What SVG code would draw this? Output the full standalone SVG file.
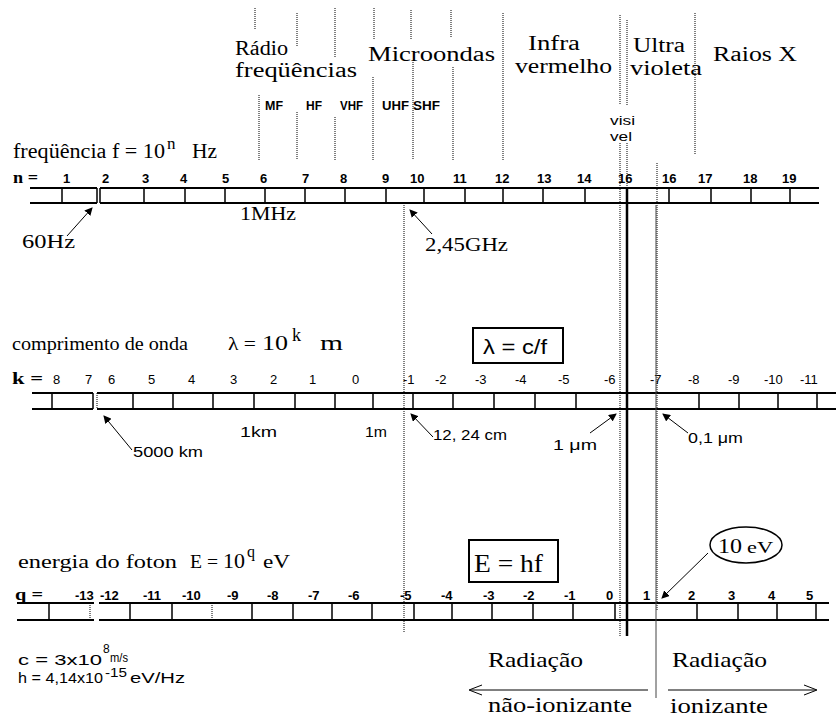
<svg xmlns="http://www.w3.org/2000/svg" width="836" height="718" viewBox="0 0 836 718">
<defs>
<style>
.sf{font-family:"Liberation Serif",serif;fill:#000}
.ss{font-family:"Liberation Sans",sans-serif;fill:#000}
.b{font-weight:bold}
.dot{stroke:#000;stroke-width:1;stroke-dasharray:1 1;fill:none}
.bar{stroke:#000;stroke-width:2;fill:none}
.tk{stroke:#000;stroke-width:1.5}
.thin{stroke:#000;stroke-width:1;fill:none}
.arr{stroke:#000;stroke-width:1;fill:none;marker-end:url(#ah)}
</style>
<marker id="ah" viewBox="0 0 8 8" refX="7" refY="4" markerWidth="8" markerHeight="8" orient="auto" markerUnits="userSpaceOnUse">
<path d="M0,0 L8,4 L0,8 Z" fill="#000"/>
</marker>
</defs>
<rect width="836" height="718" fill="#fff"/>

<g id="band-labels">
<text class="sf" x="235" y="55" font-size="20" textLength="53" lengthAdjust="spacingAndGlyphs">Rádio</text>
<text class="sf" x="235" y="77" font-size="20" textLength="122" lengthAdjust="spacingAndGlyphs">freqüências</text>
<text class="sf" x="368" y="61" font-size="20" textLength="127" lengthAdjust="spacingAndGlyphs">Microondas</text>
<text class="sf" x="528" y="50" font-size="20" textLength="52" lengthAdjust="spacingAndGlyphs">Infra</text>
<text class="sf" x="515" y="73" font-size="20" textLength="97" lengthAdjust="spacingAndGlyphs">vermelho</text>
<text class="sf" x="633" y="52" font-size="20" textLength="52" lengthAdjust="spacingAndGlyphs">Ultra</text>
<text class="sf" x="630" y="75" font-size="20" textLength="72" lengthAdjust="spacingAndGlyphs">violeta</text>
<text class="sf" x="713" y="61" font-size="20" textLength="84" lengthAdjust="spacingAndGlyphs">Raios X</text>
<text class="ss b" x="265" y="110" font-size="13" textLength="18" lengthAdjust="spacingAndGlyphs">MF</text>
<text class="ss b" x="306" y="110" font-size="13" textLength="16" lengthAdjust="spacingAndGlyphs">HF</text>
<text class="ss b" x="340" y="110" font-size="13" textLength="23" lengthAdjust="spacingAndGlyphs">VHF</text>
<text class="ss b" x="382" y="110" font-size="13" textLength="27" lengthAdjust="spacingAndGlyphs">UHF</text>
<text class="ss b" x="413" y="110" font-size="13" textLength="27" lengthAdjust="spacingAndGlyphs">SHF</text>
<text class="ss" x="610" y="125" font-size="12" textLength="25" lengthAdjust="spacingAndGlyphs">visi</text>
<text class="ss" x="610" y="141" font-size="12" textLength="22" lengthAdjust="spacingAndGlyphs">vel</text>
</g>

<g id="freq-scale">
<text class="sf" x="13" y="158" font-size="20" textLength="152" lengthAdjust="spacingAndGlyphs">freqüência f = 10</text>
<text class="sf" x="167" y="149" font-size="17">n</text>
<text class="sf" x="192" y="158" font-size="20" textLength="25" lengthAdjust="spacingAndGlyphs">Hz</text>
<text class="sf b" x="13" y="183" font-size="16" textLength="25" lengthAdjust="spacingAndGlyphs">n =</text>
<g class="ss b" font-size="13">
<text x="63" y="183">1</text><text x="102" y="183">2</text><text x="142" y="183">3</text><text x="180" y="183">4</text><text x="222" y="183">5</text><text x="260" y="183">6</text><text x="302" y="183">7</text><text x="340" y="183">8</text><text x="382" y="183">9</text><text x="410" y="183">10</text><text x="453" y="183">11</text><text x="495" y="183">12</text><text x="537" y="183">13</text><text x="577" y="183">14</text><text x="618" y="183">16</text><text x="662" y="183">16</text><text x="698" y="183">17</text><text x="743" y="183">18</text><text x="782" y="183">19</text>
</g>
<path class="bar" d="M30,188H97M30,203H97M100,188H819M100,203H819"/>
<path class="tk" d="M62,188V203M97,188V203M100,188V203M144,188V203M185,188V203M225,188V203M265,188V203M305,188V203M345,188V203M386,188V203M424,188V203M465,188V203M503,188V203M543,188V203M585,188V203M669,188V203M711,188V203M751,188V203M790,188V203"/>
<text class="sf" x="240" y="220" font-size="19" textLength="56" lengthAdjust="spacingAndGlyphs">1MHz</text>
<text class="sf" x="22" y="248" font-size="19" textLength="53" lengthAdjust="spacingAndGlyphs">60Hz</text>
<text class="sf" x="425" y="251" font-size="19" textLength="83" lengthAdjust="spacingAndGlyphs">2,45GHz</text>
</g>

<g id="wave-scale">
<text class="sf" x="12" y="350" font-size="19" textLength="176" lengthAdjust="spacingAndGlyphs">comprimento de onda</text>
<text class="sf" x="228" y="350" font-size="19" textLength="28" lengthAdjust="spacingAndGlyphs">λ =</text>
<text class="sf" x="262" y="350" font-size="20" textLength="26" lengthAdjust="spacingAndGlyphs">10</text>
<text class="sf" x="292" y="341" font-size="18">k</text>
<text class="sf" x="320" y="350" font-size="20" textLength="23" lengthAdjust="spacingAndGlyphs">m</text>
<text class="sf b" x="12" y="384" font-size="16" textLength="31" lengthAdjust="spacingAndGlyphs">k =</text>
<g class="ss" font-size="13">
<text x="53" y="384">8</text><text x="85" y="384">7</text><text x="108" y="384">6</text><text x="148" y="384">5</text><text x="188" y="384">4</text><text x="230" y="384">3</text><text x="270" y="384">2</text><text x="309" y="384">1</text><text x="352" y="384">0</text><text x="403" y="384">-1</text><text x="435" y="384">-2</text><text x="475" y="384">-3</text><text x="515" y="384">-4</text><text x="558" y="384">-5</text><text x="604" y="384">-6</text><text x="650" y="384">-7</text><text x="688" y="384">-8</text><text x="728" y="384">-9</text><text x="764" y="384">-10</text><text x="800" y="384">-11</text>
</g>
<path class="bar" d="M32,393H93M32,409H93M97,393H836M97,409H836"/>
<path class="tk" d="M52,393V409M93,393V409M133,393V409M173,393V409M213,393V409M254,393V409M295,393V409M335,393V409M373,393V409M413,393V409M453,393V409M494,393V409M535,393V409M576,393V409M699,393V409M739,393V409M778,393V409M817,393V409"/>
<path class="dot" d="M97,393V409"/>
<text class="ss" x="240" y="437" font-size="15" textLength="37" lengthAdjust="spacingAndGlyphs">1km</text>
<text class="ss" x="365" y="437" font-size="15" textLength="22" lengthAdjust="spacingAndGlyphs">1m</text>
<text class="ss" x="133" y="457" font-size="15" textLength="70" lengthAdjust="spacingAndGlyphs">5000 km</text>
<text class="ss" x="433" y="440" font-size="15" textLength="74" lengthAdjust="spacingAndGlyphs">12, 24 cm</text>
<text class="ss" x="553" y="450" font-size="15" textLength="44" lengthAdjust="spacingAndGlyphs">1 μm</text>
<text class="ss" x="688" y="443" font-size="15" textLength="55" lengthAdjust="spacingAndGlyphs">0,1 μm</text>
</g>

<g id="box-lambda">
<rect x="473" y="328" width="90" height="35" fill="none" stroke="#000" stroke-width="2"/>
<text class="ss" x="483" y="354" font-size="20" textLength="64" lengthAdjust="spacingAndGlyphs">λ = c/f</text>
</g>

<g id="energy-scale">
<text class="sf" x="18" y="568" font-size="19" textLength="159" lengthAdjust="spacingAndGlyphs">energia do foton</text>
<text class="sf" x="190" y="568" font-size="19" textLength="28" lengthAdjust="spacingAndGlyphs">E =</text>
<text class="sf" x="223" y="568" font-size="20" textLength="22" lengthAdjust="spacingAndGlyphs">10</text>
<text class="sf" x="247" y="557" font-size="16">q</text>
<text class="sf" x="263" y="568" font-size="19" textLength="27" lengthAdjust="spacingAndGlyphs">eV</text>
<text class="sf b" x="15" y="600" font-size="16" textLength="28" lengthAdjust="spacingAndGlyphs">q =</text>
<g class="ss b" font-size="13">
<text x="75" y="600">-13</text><text x="100" y="600">-12</text><text x="143" y="600">-11</text><text x="182" y="600">-10</text><text x="227" y="600">-9</text><text x="267" y="600">-8</text><text x="308" y="600">-7</text><text x="348" y="600">-6</text><text x="400" y="600">-5</text><text x="441" y="600">-4</text><text x="483" y="600">-3</text><text x="523" y="600">-2</text><text x="564" y="600">-1</text><text x="606" y="600">0</text><text x="643" y="600">1</text><text x="688" y="600">2</text><text x="728" y="600">3</text><text x="768" y="600">4</text><text x="806" y="600">5</text>
</g>
<path class="bar" d="M17,603H94M17,620H94M99,603H829M99,620H829"/>
<path class="tk" d="M49,603V620M130,603V620M172,603V620M252,603V620M293,603V620M332,603V620M372,603V620M414,603V620M452,603V620M492,603V620M533,603V620M573,603V620M615,603V620M697,603V620M738,603V620M777,603V620M816,603V620"/>
<path class="dot" d="M90,603V620M212,603V620"/>
</g>

<g id="box-E">
<rect x="469" y="540" width="89" height="42" fill="none" stroke="#000" stroke-width="2"/>
<text class="sf" x="474" y="572" font-size="26" textLength="69" lengthAdjust="spacingAndGlyphs">E = hf</text>
</g>

<g id="ellipse-10eV">
<ellipse cx="746" cy="545" rx="36" ry="18" fill="none" stroke="#000" stroke-width="1.5"/>
<text class="sf" x="718" y="553" font-size="20" textLength="24" lengthAdjust="spacingAndGlyphs">10</text>
<text class="sf" x="747" y="553" font-size="16" textLength="26" lengthAdjust="spacingAndGlyphs">eV</text>
</g>

<g id="constants">
<text class="ss" x="18" y="665" font-size="14" textLength="84" lengthAdjust="spacingAndGlyphs">c = 3x10</text>
<text class="ss" x="103" y="653" font-size="12">8</text>
<text class="ss" x="110" y="662" font-size="13" textLength="18" lengthAdjust="spacingAndGlyphs">m/s</text>
<text class="ss" x="18" y="683" font-size="14" textLength="85" lengthAdjust="spacingAndGlyphs">h = 4,14x10</text>
<text class="ss" x="105" y="677" font-size="12" textLength="22" lengthAdjust="spacingAndGlyphs">-15</text>
<text class="ss" x="130" y="683" font-size="14" textLength="55" lengthAdjust="spacingAndGlyphs">eV/Hz</text>
</g>

<g id="radiation">
<text class="sf" x="488" y="667" font-size="22" textLength="95" lengthAdjust="spacingAndGlyphs">Radiação</text>
<text class="sf" x="672" y="667" font-size="22" textLength="95" lengthAdjust="spacingAndGlyphs">Radiação</text>
<text class="sf" x="488" y="712" font-size="22" textLength="144" lengthAdjust="spacingAndGlyphs">não-ionizante</text>
<text class="sf" x="670" y="713" font-size="22" textLength="98" lengthAdjust="spacingAndGlyphs">ionizante</text>
</g>

<g id="connectors">
<path class="dot" d="M255,8V30M297,13V47M335,8V57M374,8V40M411,10V40M451,10V37M503,13V160M259,95V160M297,112V160M335,117V160M373,77V160M413,62V160M453,67V160M620,15V105M627,20V105M695,13V155"/>
<path class="dot" d="M404,205V633M620,143V636M627,143V188M657,163V610"/>
<path d="M627,188V636" stroke="#000" stroke-width="2.5"/>
<path d="M656,205V698" stroke="#444" stroke-width="1"/>
<path class="arr" d="M67,236L92,208"/>
<path class="arr" d="M432,234L410,210"/>
<path class="arr" d="M132,450L104,416"/>
<path class="arr" d="M433,437L411,414"/>
<path class="arr" d="M590,433L616,414"/>
<path class="arr" d="M688,433L663,414"/>
<path class="arr" d="M708,553L662,598"/>
<path class="thin" stroke-width="1.5" d="M471,690H648M482,685L469,690L482,695"/>
<path class="thin" stroke-width="1.5" d="M668,690H815M804,685L817,690L804,695"/>
</g>
</svg>
